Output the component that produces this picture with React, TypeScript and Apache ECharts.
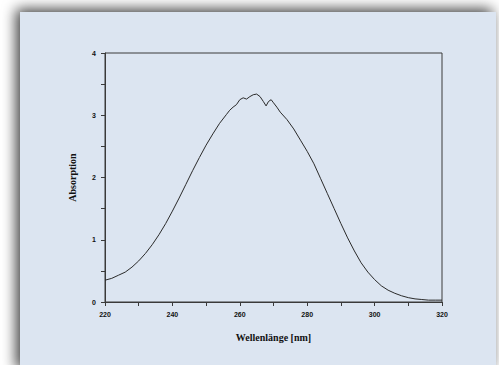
import React, { useEffect, useRef } from "react";
import * as echarts from "echarts";

const wavelengths = [220, 222, 224, 226, 228, 230, 232, 234, 236, 238, 240, 242, 244, 246, 248, 250, 252, 254, 256, 257, 258, 259, 260, 261, 262, 263, 264, 265, 266, 267, 267.8, 268.5, 269.3, 270, 271, 272, 274, 276, 278, 280, 282, 284, 286, 288, 290, 292, 294, 296, 298, 300, 302, 304, 306, 308, 310, 312, 314, 316, 318, 320];
const absorption = [0.35, 0.38, 0.43, 0.48, 0.56, 0.66, 0.78, 0.92, 1.08, 1.26, 1.46, 1.67, 1.89, 2.11, 2.32, 2.52, 2.70, 2.87, 3.01, 3.08, 3.13, 3.17, 3.25, 3.28, 3.26, 3.30, 3.33, 3.34, 3.30, 3.22, 3.15, 3.22, 3.25, 3.20, 3.13, 3.05, 2.93, 2.78, 2.60, 2.42, 2.22, 1.98, 1.74, 1.50, 1.26, 1.03, 0.82, 0.63, 0.48, 0.36, 0.26, 0.19, 0.14, 0.10, 0.07, 0.05, 0.04, 0.03, 0.03, 0.03];
const xLabelled = [220, 240, 260, 280, 300, 320];
const yLabelled = [0, 1, 2, 3, 4];

export default function App() {
  const ref = useRef<HTMLDivElement>(null);
  useEffect(() => {
    if (!ref.current) return;
    const chart = echarts.init(ref.current, null, { renderer: "svg" });
    const axisColor = "#3a3a3a";
    chart.setOption({
      animation: false,
      backgroundColor: "#ffffff",
      graphic: [
        {
          type: "rect",
          z: -10,
          silent: true,
          shape: { x: 20, y: 12, width: 476, height: 360 },
          style: {
            fill: "#dce5f1",
            shadowBlur: 14,
            shadowColor: "rgba(0,0,0,0.75)",
            shadowOffsetX: -4,
            shadowOffsetY: -3,
          },
        },
      ],
      grid: {
        left: 105,
        right: 57,
        top: 53,
        bottom: 63,
        show: true,
        borderColor: axisColor,
        borderWidth: 1,
        backgroundColor: "transparent",
      },
      xAxis: {
        type: "value",
        min: 220,
        max: 320,
        interval: 10,
        name: "Wellenlänge [nm]",
        nameLocation: "middle",
        nameGap: 30,
        nameTextStyle: { fontFamily: "Liberation Serif", fontWeight: "bold", fontSize: 10, color: "#111" },
        axisLine: { lineStyle: { color: axisColor, width: 1 } },
        axisTick: { show: true, inside: false, length: 4, lineStyle: { color: axisColor } },
        splitLine: { show: false },
        axisLabel: {
          margin: 9,
          fontFamily: "Liberation Sans",
          fontWeight: "bold",
          fontSize: 7,
          color: "#111",
          formatter: (v: number) => (xLabelled.includes(v) ? String(v) : ""),
        },
      },
      yAxis: {
        type: "value",
        min: 0,
        max: 4,
        interval: 0.5,
        name: "Absorption",
        nameLocation: "middle",
        nameGap: 28,
        nameTextStyle: { fontFamily: "Liberation Serif", fontWeight: "bold", fontSize: 10, color: "#111" },
        axisLine: { show: true, lineStyle: { color: axisColor, width: 1 } },
        axisTick: { show: true, inside: false, length: 4, lineStyle: { color: axisColor } },
        splitLine: { show: false },
        axisLabel: {
          margin: 9,
          fontFamily: "Liberation Sans",
          fontWeight: "bold",
          fontSize: 7,
          color: "#111",
          formatter: (v: number) => (yLabelled.includes(v) ? String(v) : ""),
        },
      },
      series: [
        {
          type: "line",
          data: wavelengths.map((w, i) => [w, absorption[i]]),
          showSymbol: false,
          smooth: false,
          lineStyle: { color: "#2a2a2a", width: 1 },
        },
      ],
    });
    return () => chart.dispose();
  }, []);
  return (
    <div
      ref={ref}
      style={{ position: "fixed", left: 0, top: 0, width: 499, height: 365 }}
    />
  );
}
